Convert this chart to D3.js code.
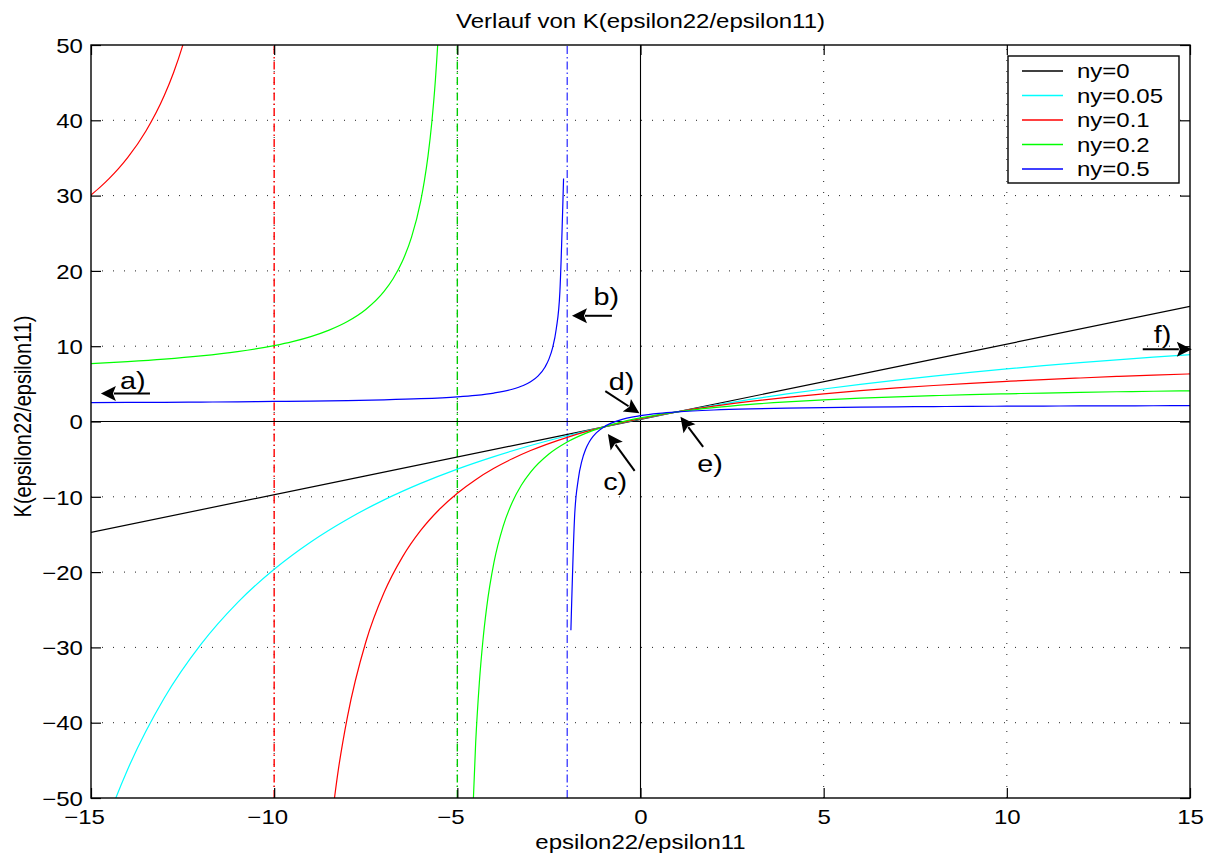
<!DOCTYPE html>
<html>
<head>
<meta charset="utf-8">
<script src="https://d3js.org/d3.v7.min.js"></script>
<style>
body { margin: 0; background: #fff; }
text { font-family: "Liberation Sans", Arial, Helvetica, sans-serif; fill: #000; }
</style>
</head>
<body>
<div id="chart"></div>
<script>
// ---- data ----
var xTicks = [-15, -10, -5, 0, 5, 10, 15];
var yTicks = [-50, -40, -30, -20, -10, 0, 10, 20, 30, 40, 50];

var seriesNames = ["ny=0", "ny=0.05", "ny=0.1", "ny=0.2", "ny=0.5"];
var seriesColors = ["#000000", "#00ffff", "#ff0000", "#00ff00", "#0000ff"];

var xBlack = [-15, 0, 15];
var kBlack = [-14.72, 0.28, 15.28];

var xCyan = [-15, -14.5, -14, -13, -12, -11, -10, -9, -8, -7, -6, -5, -4, -3, -2, -1, 0,
             1, 2, 3, 4, 5, 6, 7, 8, 9, 10, 11, 12, 13, 14, 15];
var kCyan = [-59.52, -52.27, -46.22, -36.72, -29.60, -24.05, -19.62, -15.99, -12.97, -10.41, -8.22, -6.32, -4.66, -3.19, -1.89, -0.72, 0.33,
             1.28, 2.14, 2.93, 3.66, 4.32, 4.93, 5.50, 6.03, 6.52, 6.98, 7.41, 7.81, 8.19, 8.54, 8.88];

var xRedLeft = [-15, -14.75, -14.5, -14.25, -14, -13.5, -13, -12.75, -12.5, -12.25, -12];
var kRedLeft = [30.08, 31.12, 32.28, 33.57, 35.03, 38.57, 43.28, 46.28, 49.88, 54.28, 59.78];
var xRedRight = [-8.5, -8.25, -8, -7.5, -7, -6.5, -6, -5.5, -5, -4.5, -4, -3.5, -3, -2, -1, 0,
                 1, 2, 3, 4, 5, 6, 7, 8, 9, 10, 11, 12, 13, 14, 15];
var kRedRight = [-55.72, -46.29, -39.22, -29.32, -22.72, -18.01, -14.47, -11.72, -9.52, -7.72, -6.22, -4.95, -3.86, -2.10, -0.72, 0.38,
                 1.28, 2.03, 2.66, 3.21, 3.68, 4.09, 4.46, 4.78, 5.07, 5.33, 5.57, 5.78, 5.98, 6.16, 6.32];

var xGreenLeft = [-15, -14, -13, -12, -11, -10, -9.5, -9, -8.5, -8, -7.5, -7, -6.75, -6.5, -6.25, -6, -5.9, -5.8, -5.7, -5.6, -5.5, -5.4];
var kGreenLeft = [7.68, 7.95, 8.28, 8.71, 9.28, 10.08, 10.61, 11.28, 12.14, 13.28, 14.88, 17.28, 18.99, 21.28, 24.48, 29.28, 31.95, 35.28, 39.57, 45.28, 53.28, 65.28];
var xGreenRight = [-4.6, -4.5, -4.4, -4.3, -4.2, -4, -3.75, -3.5, -3.25, -3, -2.5, -2, -1.5, -1, -0.5, 0, 0.5, 1,
                   2, 3, 4, 5, 6, 7, 8, 9, 10, 11, 12, 13, 14, 15];
var kGreenRight = [-54.72, -42.72, -34.72, -29.01, -24.72, -18.72, -13.92, -10.72, -8.43, -6.72, -4.32, -2.72, -1.58, -0.72, -0.05, 0.48, 0.92, 1.28,
                   1.85, 2.28, 2.61, 2.88, 3.10, 3.28, 3.43, 3.57, 3.68, 3.78, 3.87, 3.95, 4.02, 4.08];

var xBlueLeft = [-15, -14, -13, -12, -11, -10, -9, -8, -7, -6, -5, -4.5, -4, -3.5, -3.2, -3, -2.8, -2.6, -2.5, -2.4, -2.3, -2.2, -2.1];
var kBlueLeft = [2.51, 2.53, 2.55, 2.58, 2.61, 2.66, 2.71, 2.78, 2.88, 3.03, 3.28, 3.48, 3.78, 4.28, 4.78, 5.28, 6.03, 7.28, 8.28, 9.78, 12.28, 17.28, 32.28];
var xBlueRight = [-1.9, -1.8, -1.7, -1.6, -1.5, -1.4, -1.3, -1.2, -1, -0.8, -0.5, -0.2, 0, 0.5, 1,
                  2, 3, 4, 5, 6, 7, 8, 9, 10, 11, 12, 13, 14, 15];
var kBlueRight = [-27.72, -12.72, -7.72, -5.22, -3.72, -2.72, -2.01, -1.47, -0.72, -0.22, 0.28, 0.61, 0.78, 1.08, 1.28,
                  1.53, 1.68, 1.78, 1.85, 1.91, 1.95, 1.98, 2.01, 2.03, 2.05, 2.07, 2.08, 2.09, 2.10];

// pole positions (dash-dot lines)
var poleX = [-10, -5, -2];
var poleColors = ["#ff0000", "#00cc00", "#4444ff"];

// annotations
var annoText = ["a)", "b)", "c)", "d)", "e)", "f)"];
var annoTextX = [-14.21, -1.28, -1.02, -0.87, 1.55, 14.01];
var annoTextY = [4.26, 15.45, -9.11, 4.17, -6.7, 10.46];
var arrowFromX = [-13.39, -0.78, -0.16, -0.96, 1.71, 13.71];
var arrowFromY = [3.73, 14.04, -6.55, 4.04, -3.36, 9.58];
var arrowToX = [-14.73, -1.87, -0.89, -0.03, 1.09, 15.05];
var arrowToY = [3.73, 14.04, -1.67, 1.08, 0.62, 9.58];

// ---- layout ----
var svgWidth = 1213;
var svgHeight = 855;
var margin = { top: 45, right: 23, bottom: 57, left: 91 };

var svg = d3.select("#chart").append("svg")
    .attr("width", svgWidth)
    .attr("height", svgHeight);

var x = d3.scaleLinear().domain([-15, 15]).range([margin.left, svgWidth - margin.right]);
var y = d3.scaleLinear().domain([-50, 50]).range([svgHeight - margin.bottom, margin.top]);

var x0 = x.range()[0], x1 = x.range()[1], yb = y.range()[0], yt = y.range()[1];

// the figure is stretched horizontally, so all text gets scale(1.2,1)
function addText(g, str, px, py, anchor, rotate, size) {
    return g.append("text")
        .attr("transform", "translate(" + px + "," + py + ") scale(1.2,1)" + (rotate ? " rotate(-90)" : ""))
        .attr("text-anchor", anchor)
        .attr("font-size", size || 20)
        .text(str);
}

svg.append("defs").append("clipPath").attr("id", "plotclip")
    .append("rect").attr("x", x0).attr("y", yt).attr("width", x1 - x0).attr("height", yb - yt);

// grid
var grid = svg.append("g").attr("stroke", "#222").attr("stroke-width", 1).attr("stroke-dasharray", "1,10");
grid.selectAll(".gx").data(xTicks.slice(1, -1)).enter().append("line")
    .attr("x1", d => x(d)).attr("x2", d => x(d)).attr("y1", yb).attr("y2", yt);
grid.selectAll(".gy").data(yTicks.slice(1, -1)).enter().append("line")
    .attr("y1", d => y(d)).attr("y2", d => y(d)).attr("x1", x0).attr("x2", x1);

// pole lines
svg.append("g").selectAll("line").data(poleX).enter().append("line")
    .attr("x1", d => x(d)).attr("x2", d => x(d)).attr("y1", yb).attr("y2", yt)
    .attr("stroke", (d, i) => poleColors[i])
    .attr("stroke-width", 1.4)
    .attr("stroke-dasharray", "8,3,1.5,3");

// zero lines
svg.append("line").attr("x1", x0).attr("x2", x1).attr("y1", y(0)).attr("y2", y(0)).attr("stroke", "#000").attr("stroke-width", 1.1);
svg.append("line").attr("x1", x(0)).attr("x2", x(0)).attr("y1", yb).attr("y2", yt).attr("stroke", "#000").attr("stroke-width", 1.1);

// curves
var line = d3.line().x(d => x(d[0])).y(d => y(d[1])).curve(d3.curveMonotoneX);
var branches = [
    [xBlack, kBlack, 0],
    [xCyan, kCyan, 1],
    [xRedLeft, kRedLeft, 2], [xRedRight, kRedRight, 2],
    [xGreenLeft, kGreenLeft, 3], [xGreenRight, kGreenRight, 3],
    [xBlueLeft, kBlueLeft, 4], [xBlueRight, kBlueRight, 4]
];
var curves = svg.append("g").attr("clip-path", "url(#plotclip)");
branches.forEach(function(b) {
    var pts = b[0].map((v, i) => [v, b[1][i]]);
    curves.append("path")
        .attr("d", line(pts))
        .attr("fill", "none")
        .attr("stroke", seriesColors[b[2]])
        .attr("stroke-width", 1.2);
});

// axes
var axB = svg.append("g").attr("transform", "translate(0," + yb + ")")
    .call(d3.axisBottom(x).tickValues(xTicks).tickSize(-10).tickPadding(12));
axB.selectAll("text").attr("font-size", 20).attr("fill", "#000")
    .attr("transform", "scale(1.2,1)")
    .attr("dx", d => d < 0 ? "-0.29em" : 0);
var axL = svg.append("g").attr("transform", "translate(" + x0 + ",0)")
    .call(d3.axisLeft(y).tickValues(yTicks).tickSize(-10).tickPadding(6.8));
axL.selectAll("text").attr("font-size", 20).attr("fill", "#000")
    .attr("transform", "scale(1.2,1)").attr("dy", "0.36em");
svg.append("g").attr("transform", "translate(0," + yt + ")")
    .call(d3.axisTop(x).tickValues(xTicks).tickSize(-10).tickFormat(""));
svg.append("g").attr("transform", "translate(" + x1 + ",0)")
    .call(d3.axisRight(y).tickValues(yTicks).tickSize(-10).tickFormat(""));
svg.selectAll(".domain").remove();
svg.selectAll(".tick line").attr("stroke", "#000").attr("stroke-width", 1.2);
svg.selectAll(".tick text").attr("font-family", "\"Liberation Sans\", Arial, sans-serif");

svg.append("rect").attr("x", x0).attr("y", yt).attr("width", x1 - x0).attr("height", yb - yt)
    .attr("fill", "none").attr("stroke", "#000").attr("stroke-width", 1.4);

// titles
addText(svg, "Verlauf von K(epsilon22/epsilon11)", (x0 + x1) / 2, 28, "middle");
addText(svg, "epsilon22/epsilon11", (x0 + x1) / 2, 849, "middle");
addText(svg, "K(epsilon22/epsilon11)", 31, (yt + yb) / 2 - 5, "middle", true);

// legend
var lg = svg.append("g");
var lgX = 1008, lgY = 56, lgW = 171, lgH = 127, rowH = 24.5;
lg.append("rect").attr("x", lgX).attr("y", lgY).attr("width", lgW).attr("height", lgH)
    .attr("fill", "#fff").attr("stroke", "#000").attr("stroke-width", 1.4);
seriesNames.forEach(function(name, i) {
    var cy = lgY + 15 + i * rowH;
    lg.append("line").attr("x1", lgX + 14).attr("x2", lgX + 55).attr("y1", cy).attr("y2", cy)
        .attr("stroke", seriesColors[i]).attr("stroke-width", 1.4);
    addText(lg, name, lgX + 69, cy + 7, "start");
});

// annotations
var ann = svg.append("g");
annoText.forEach(function(t, i) {
    addText(ann, t, x(annoTextX[i]), y(annoTextY[i]), "start", false, 24);
    var ax1 = x(arrowFromX[i]), ay1 = y(arrowFromY[i]);
    var ax2 = x(arrowToX[i]), ay2 = y(arrowToY[i]);
    var ang = Math.atan2(ay2 - ay1, ax2 - ax1);
    var L = 15, W = 7.5;
    var bx = ax2 - L * Math.cos(ang), by = ay2 - L * Math.sin(ang);
    var px = -Math.sin(ang), py = Math.cos(ang);
    ann.append("line").attr("x1", ax1).attr("y1", ay1).attr("x2", bx + 2 * Math.cos(ang)).attr("y2", by + 2 * Math.sin(ang))
        .attr("stroke", "#000").attr("stroke-width", 2);
    ann.append("polygon")
        .attr("points", [[ax2, ay2], [bx + px * W, by + py * W], [bx + 3 * Math.cos(ang), by + 3 * Math.sin(ang)], [bx - px * W, by - py * W]].map(p => p.join(",")).join(" "))
        .attr("fill", "#000");
});
</script>
</body>
</html>
